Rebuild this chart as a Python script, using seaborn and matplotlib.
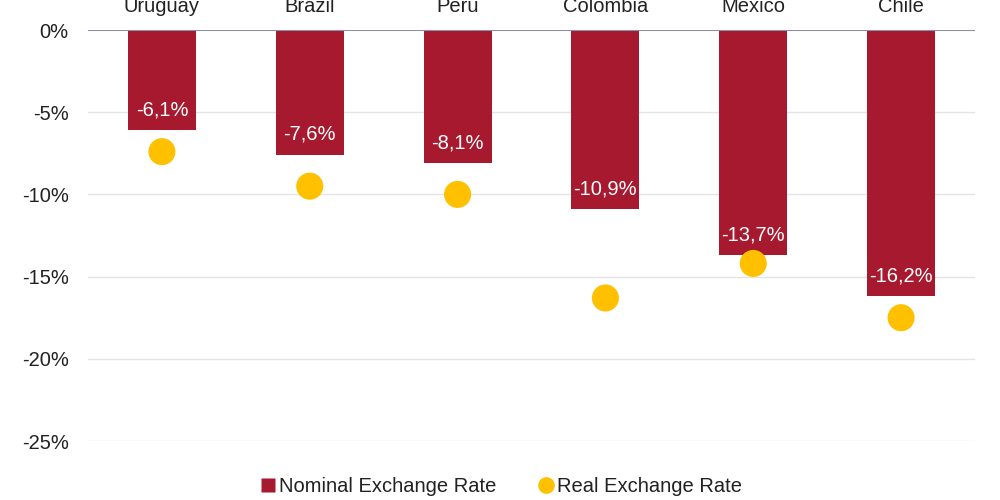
import matplotlib
matplotlib.use("Agg")
import matplotlib.pyplot as plt
import seaborn as sns
import pandas as pd
from matplotlib.lines import Line2D

countries = ["Uruguay", "Brazil", "Peru", "Colombia", "Mexico", "Chile"]
nominal = [-6.1, -7.6, -8.1, -10.9, -13.7, -16.2]
real = [-7.4, -9.5, -10.0, -16.3, -14.2, -17.5]
yticks = [0, -5, -10, -15, -20, -25]

sns.set_theme(style="white")
plt.rcParams["font.family"] = ["Liberation Sans", "DejaVu Sans"]
plt.rcParams["axes.unicode_minus"] = False

bar_color = "#a6192e"
dot_color = "#ffc000"
txt_color = "#222222"
fs = 14.5

df = pd.DataFrame({"country": countries, "nominal": nominal, "real": real})

fig = plt.figure(figsize=(10, 5), dpi=100)
ax = fig.add_axes([0.088, 0.118, 0.887, 0.822])

for t in yticks[1:]:
    ax.axhline(t, color="#e3e3e3", lw=1, zorder=0)

sns.barplot(data=df, x="country", y="nominal", color=bar_color, width=0.46,
            saturation=1, ax=ax, zorder=2, linewidth=0)
ax.axhline(0, color="#8e8ea6", lw=1.5, zorder=3)
sns.scatterplot(data=df, x="country", y="real", color=dot_color, s=380,
                edgecolor="none", ax=ax, zorder=4)

for i, v in enumerate(nominal):
    ax.text(i, v + 1.25, f"{v:.1f}%".replace(".", ","), ha="center", va="center",
            color="white", fontsize=fs, zorder=5)

ax.set_xlim(-0.5, 5.5)
ax.set_ylim(-25, 0)
ax.set_yticks(yticks)
ax.set_yticklabels([f"{t}%" for t in yticks], fontsize=fs, color=txt_color)
ax.xaxis.tick_top()
ax.tick_params(axis="x", length=0, pad=10, labelsize=fs, labelcolor=txt_color)
ax.tick_params(axis="y", length=0, pad=14)
ax.set_xlabel("")
ax.set_ylabel("")
for s in ax.spines.values():
    s.set_visible(False)

handles = [
    Line2D([], [], marker="s", color="none", markerfacecolor=bar_color,
           markeredgecolor="none", markersize=10, label="Nominal Exchange Rate"),
    Line2D([], [], marker="o", color="none", markerfacecolor=dot_color,
           markeredgecolor="none", markersize=12, label="Real Exchange Rate"),
]
fig.legend(handles=handles, loc="center", bbox_to_anchor=(0.5, 0.026), ncol=2,
           frameon=False, fontsize=fs, handletextpad=0.05, columnspacing=2.0,
           handlelength=1.0, labelcolor=txt_color)

fig.savefig("out.png", dpi=100)
